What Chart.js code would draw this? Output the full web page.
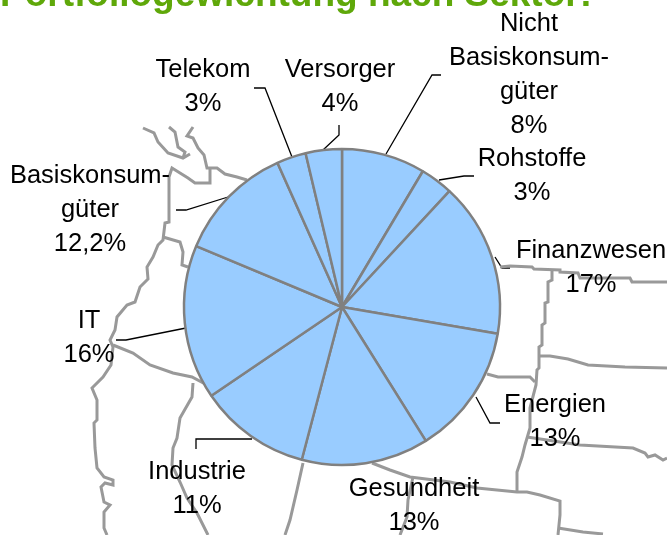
<!DOCTYPE html>
<html>
<head>
<meta charset="utf-8">
<title>Portfoliogewichtung nach Sektor</title>
<script src="https://cdn.jsdelivr.net/npm/chart.js@4.4.3/dist/chart.umd.js"></script>
<style>
    html, body { margin: 0; padding: 0; background: #fff; overflow: hidden; }
    #stage { position: relative; width: 667px; height: 535px; }
    #stage canvas { position: absolute; left: 0; top: 0; }
</style>
</head>
<body>
<div id="stage">
    <canvas id="mapChart" width="667" height="535"></canvas>
    <canvas id="pieChart" width="667" height="535"></canvas>
</div>
<script>
// sectors, clockwise from 12 o'clock
const sectors = ['Nicht Basiskonsumgüter', 'Rohstoffe', 'Finanzwesen', 'Energien', 'Gesundheit', 'Industrie', 'IT', 'Basiskonsumgüter', 'Telekom', 'Versorger'];
// slice sizes
const sliceValues = [8.55, 3.35, 15.8, 13.4, 13, 11.4, 15.8, 12, 3, 3.7];
const percentLabels = ['8%', '3%', '17%', '13%', '13%', '11%', '16%', '12,2%', '3%', '4%'];

// background map, [x, y] on the map scale
const mapNorthA = [[143,128],[154,133],[158,142],[168,153],[183,158],[190,154]];
const mapNorthB = [[169,127],[175,132],[178,147],[185,152],[183,158]];
const mapNorthC = [[193,127],[187,136],[193,138],[198,148],[204,155],[207,168],[217,168],[225,174],[237,177],[247,180]];
const mapWestCoast = [[210,168],[210,183],[195,183],[188,178],[180,173],[172,168],[169,177],[169,222],[165,223],[163,240],[158,245],[153,257],[147,267],[148,279],[140,287],[135,302],[127,305],[117,317],[115,330],[110,340],[113,347],[111,365],[103,377],[92,388],[97,400],[97,420],[94,423],[95,448],[97,468],[104,477],[113,480],[113,485],[105,483],[101,487],[104,502],[110,505],[104,512],[104,528],[107,535]];
const mapWestInner = [[163,237],[180,242],[183,252],[182,265],[188,267]];
const mapMidWest = [[113,345],[133,353],[150,365],[173,373],[192,377],[207,385]];
const mapMidSouth = [[193,383],[192,397],[180,418],[177,438],[173,448],[172,465],[180,482],[187,498],[197,513],[208,535]];
const mapPieSouth = [[303,463],[297,490],[290,520],[285,535]];
const mapEastTop = [[500,267],[510,266],[532,267],[534,269],[560,270],[560,272],[578,273],[580,278],[630,278],[632,282],[667,282]];
const mapEastSpine = [[552,270],[552,280],[548,282],[548,302],[545,303],[545,323],[542,325],[542,345],[539,347],[539,368],[537,370],[536,385],[530,408],[530,428],[525,445],[522,457],[517,472],[517,492]];
const mapEastMid = [[539,356],[550,356],[568,359],[588,365],[625,367],[667,368]];
const mapEastShort = [[487,374],[498,377],[530,377],[535,382]];
const mapEastLow = [[527,437],[580,445],[633,448],[645,453],[648,457],[655,455],[663,460],[667,458]];
const mapSouthA = [[372,463],[390,470],[410,477],[450,482],[477,488],[517,492],[527,492],[540,495],[560,501],[560,515],[558,535]];
const mapSouthB = [[558,528],[583,532],[603,534]];
const mapSouthC = [[413,477],[408,500],[407,517],[400,535]];
const mapPaths = [mapNorthA, mapNorthB, mapNorthC, mapWestCoast, mapWestInner, mapMidWest, mapMidSouth, mapPieSouth, mapEastTop, mapEastSpine, mapEastMid, mapEastShort, mapEastLow, mapSouthA, mapSouthB, mapSouthC];

// leader lines from the labels to the slices
const leaderTelekom = [[254,88],[265,88],[292,157]];
const leaderVersorger = [[339,125],[339,135],[323,150]];
const leaderNicht = [[441,75],[432,75],[386,154]];
const leaderRohstoffe = [[474,176],[464,176],[439,180]];
const leaderFinanz = [[495,257],[502,268],[510,268]];
const leaderEnergien = [[476,397],[490,423],[500,423]];
const leaderIndustrie = [[196,449],[196,439],[252,439]];
const leaderIT = [[116,340],[126,340],[186,328]];
const leaderBasis = [[176,210],[186,210],[228,197]];
const leaderPaths = [leaderTelekom, leaderVersorger, leaderNicht, leaderRohstoffe, leaderFinanz, leaderEnergien, leaderIndustrie, leaderIT, leaderBasis];

function toDataset(path, color, width) {
    return {
        data: path.map(p => ({ x: p[0], y: p[1] })),
        showLine: true,
        borderColor: color,
        borderWidth: width,
        pointRadius: 0,
        tension: 0,
        borderJoinStyle: 'miter'
    };
}

new Chart(document.querySelector('#mapChart'), {
    type: 'scatter',
    data: {
        datasets: [
            ...mapPaths.map(p => toDataset(p, '#999999', 3)),
            ...leaderPaths.map(p => toDataset(p, '#000000', 1.3))
        ]
    },
    options: {
        responsive: false,
        animation: false,
        layout: { padding: 0 },
        plugins: { legend: { display: false }, tooltip: { enabled: false } },
        scales: {
            x: { type: 'linear', min: 0, max: 667, display: false },
            y: { type: 'linear', min: 0, max: 535, reverse: true, display: false }
        }
    }
});

const titleText = 'Portfoliogewichtung nach Sektor:';

// label block for each sector: centre x, first line y, lines above the percent
const labelBlocks = [
    { x: 529, y: 24, lines: ['Nicht', 'Basiskonsum-', 'güter'] },
    { x: 532, y: 159, lines: ['Rohstoffe'] },
    { x: 591, y: 251, lines: ['Finanzwesen'] },
    { x: 555, y: 405, lines: ['Energien'] },
    { x: 414, y: 489, lines: ['Gesundheit'] },
    { x: 197, y: 472, lines: ['Industrie'] },
    { x: 89, y: 321, lines: ['IT'] },
    { x: 90, y: 176, lines: ['Basiskonsum-', 'güter'] },
    { x: 203, y: 70, lines: ['Telekom'] },
    { x: 340, y: 70, lines: ['Versorger'] }
];

const textPlugin = {
    id: 'textPlugin',
    afterDraw(chart) {
        const c = chart.ctx;
        c.save();
        c.fillStyle = '#5fa80a';
        c.font = 'bold 37px "Liberation Sans"';
        c.textAlign = 'right';
        c.textBaseline = 'alphabetic';
        c.fillText(titleText, 592, 6);

        c.fillStyle = '#000';
        c.font = '25.5px "Liberation Sans"';
        c.textAlign = 'center';
        c.textBaseline = 'middle';
        labelBlocks.forEach((block, i) => {
            [...block.lines, percentLabels[i]].forEach((line, n) => {
                c.fillText(line, block.x, block.y + n * 34);
            });
        });
        c.restore();
    }
};

new Chart(document.querySelector('#pieChart'), {
    type: 'pie',
    data: {
        labels: sectors,
        datasets: [{
            data: sliceValues,
            backgroundColor: '#99ccff',
            borderColor: '#808080',
            borderWidth: 2.5,
            borderAlign: 'center'
        }]
    },
    options: {
        responsive: false,
        animation: false,
        radius: 158,
        layout: { padding: { left: 184, right: 167, top: 149, bottom: 70 } },
        plugins: { legend: { display: false }, tooltip: { enabled: false } }
    },
    plugins: [textPlugin]
});
</script>
</body>
</html>
